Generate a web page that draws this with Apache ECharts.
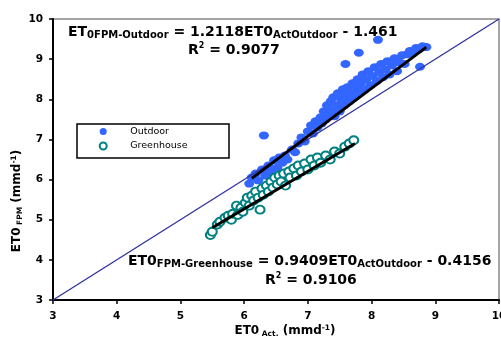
<!DOCTYPE html>
<html><head><meta charset="utf-8">
<script src="https://cdn.jsdelivr.net/npm/echarts@6/dist/echarts.min.js"></script>
<style>html,body{margin:0;padding:0;background:#fff}#c{width:501px;height:338px}</style>
</head><body><div id="c"></div>
<script>
const seriesNames = ['Outdoor', 'Greenhouse'];
const axisTicks = [3, 4, 5, 6, 7, 8, 9, 10];
const oneToOne = [[3, 3], [10, 10]];
const outdoorFit = [[6.12, 6.03], [8.86, 9.30]];
const greenhouseFit = [[5.50, 4.80], [7.74, 6.90]];
const outdoorPoints = [
  [6.08,5.90],[6.12,6.05],[6.18,6.15],[6.22,5.98],[6.28,6.25],[6.33,6.10],[6.38,6.35],[6.42,6.20],
  [6.47,6.48],[6.52,6.30],[6.55,6.55],[6.60,6.42],[6.64,6.60],[6.68,6.50],[6.31,7.10],
  [6.75,6.75],[6.80,6.68],[6.85,6.90],[6.90,7.05],[6.95,6.95],[7.00,7.20],[7.05,7.35],[7.08,7.15],
  [7.12,7.45],[7.15,7.30],[7.20,7.55],[7.22,7.40],[7.25,7.70],[7.28,7.50],[7.30,7.85],[7.33,7.62],
  [7.36,7.95],[7.38,7.72],[7.40,8.05],[7.42,7.58],[7.45,7.85],[7.47,8.15],[7.50,7.70],[7.52,8.00],
  [7.55,8.25],[7.57,7.85],[7.60,8.10],[7.62,8.30],[7.65,7.95],[7.68,8.20],[7.70,8.40],[7.72,8.05],
  [7.75,8.30],[7.78,8.50],[7.80,8.15],[7.83,8.40],[7.86,8.62],[7.88,8.25],[7.92,8.50],[7.95,8.70],
  [7.98,8.35],[8.02,8.58],[8.05,8.80],[8.08,8.45],[8.12,8.68],[8.15,8.88],[8.18,8.55],[8.22,8.75],
  [8.25,8.95],[8.28,8.62],[8.32,8.85],[8.36,9.02],[8.40,8.70],[8.44,8.92],[8.48,9.10],[8.52,8.88],
  [8.56,9.12],[8.60,9.20],[8.65,9.15],[8.70,9.28],[8.75,9.25],[8.80,9.32],[8.86,9.30],
  [7.59,8.88],[7.80,9.16],[8.10,9.48],[8.76,8.81]
];
const greenhousePoints = [
  [5.47,4.62],[5.50,4.70],[5.58,4.88],[5.62,4.95],[5.70,5.05],[5.75,5.10],[5.80,5.00],[5.82,5.15],
  [5.88,5.35],[5.90,5.12],[5.95,5.30],[5.98,5.20],[6.02,5.42],[6.05,5.55],[6.08,5.35],[6.12,5.60],
  [6.15,5.48],[6.18,5.70],[6.22,5.55],[6.25,5.25],[6.28,5.78],[6.30,5.62],[6.35,5.85],[6.38,5.70],
  [6.42,5.95],[6.45,5.80],[6.48,6.05],[6.52,5.88],[6.55,6.10],[6.58,5.95],[6.62,6.15],[6.65,5.85],
  [6.70,6.20],[6.72,6.05],[6.78,6.28],[6.82,6.10],[6.85,6.35],[6.90,6.20],[6.95,6.40],[7.00,6.25],
  [7.05,6.50],[7.10,6.35],[7.15,6.55],[7.20,6.42],[7.28,6.60],[7.35,6.50],[7.42,6.70],[7.50,6.65],
  [7.58,6.82],[7.65,6.90],[7.72,6.98]
];

const FF = 'DejaVu Sans';
const rich = {
  m: {fontFamily: FF, fontWeight: 'bold', fontSize: 14, lineHeight: 16, color: '#000'},
  s: {fontFamily: FF, fontWeight: 'bold', fontSize: 10, lineHeight: 10, verticalAlign: 'bottom', color: '#000'},
  p: {fontFamily: FF, fontWeight: 'bold', fontSize: 8, lineHeight: 8, verticalAlign: 'top', color: '#000'}
};
const richAxis = {
  m: {fontFamily: FF, fontWeight: 'bold', fontSize: 12, lineHeight: 14, color: '#000'},
  s: {fontFamily: FF, fontWeight: 'bold', fontSize: 7.5, lineHeight: 8, verticalAlign: 'bottom', color: '#000'},
  p: {fontFamily: FF, fontWeight: 'bold', fontSize: 7.5, lineHeight: 7, verticalAlign: 'top', color: '#000'}
};

const axisCommon = {
  type: 'value', min: axisTicks[0], max: axisTicks[axisTicks.length - 1], interval: 1,
  splitLine: {show: false},
  axisLine: {show: true, onZero: false, lineStyle: {color: '#000', width: 2}},
  axisTick: {show: true, length: 4, lineStyle: {color: '#000', width: 1.5}},
  axisLabel: {color: '#000', fontFamily: FF, fontWeight: 'bold', fontSize: 10.5}
};

const chart = echarts.init(document.getElementById('c'), null, {renderer: 'canvas'});
chart.setOption({
  animation: false,
  backgroundColor: '#fff',
  grid: {left: 53, right: 2, top: 19, bottom: 38, show: true, borderColor: '#888', borderWidth: 1.5, backgroundColor: 'transparent', outerBoundsMode: 'none'},
  xAxis: Object.assign({}, axisCommon, {axisLabel: Object.assign({}, axisCommon.axisLabel, {margin: 11})}),
  yAxis: Object.assign({}, axisCommon, {axisLabel: Object.assign({}, axisCommon.axisLabel, {margin: 10})}),
  legend: {
    data: seriesNames, orient: 'vertical', left: 98.7, top: 125.5, padding: 0,
    itemWidth: 8, itemHeight: 7, itemGap: 2.5,
    textStyle: {fontFamily: FF, fontSize: 9.5, color: '#000', lineHeight: 12, padding: [0, 0, 0, 18]}
  },
  series: [
    {type: 'line', name: '1:1', data: oneToOne, symbol: 'none', lineStyle: {color: '#3333a0', width: 1.4}, silent: true},
    {type: 'scatter', name: seriesNames[0], data: outdoorPoints, symbol: 'circle', symbolSize: [10, 8],
     itemStyle: {color: '#3366FF', opacity: 1}},
    {type: 'scatter', name: seriesNames[1], data: greenhousePoints, symbol: 'circle', symbolSize: [9, 8],
     itemStyle: {color: '#fff', borderColor: '#008080', borderWidth: 2, opacity: 1}},
    {type: 'line', name: 'fitO', data: outdoorFit, symbol: 'none', lineStyle: {color: '#000', width: 3}, silent: true},
    {type: 'line', name: 'fitG', data: greenhouseFit, symbol: 'none', lineStyle: {color: '#000', width: 3}, silent: true}
  ],
  graphic: [
    {type: 'rect', z: 3, shape: {x: 77, y: 124, width: 152, height: 34}, style: {fill: '#fff', stroke: '#000', lineWidth: 1.5}},
    {type: 'text', z: 10, x: 68, y: 32, style: {text: '{m|ET}{s|0FPM-Outdoor}{m| = 1.2118ET0}{s|ActOutdoor}{m| - 1.461}', rich: rich, align: 'left', verticalAlign: 'middle'}},
    {type: 'text', z: 10, x: 188, y: 50, style: {text: '{m|R}{p|2}{m| = 0.9077}', rich: rich, align: 'left', verticalAlign: 'middle'}},
    {type: 'text', z: 10, x: 128, y: 261, style: {text: '{m|ET0}{s|FPM-Greenhouse}{m| = 0.9409ET0}{s|ActOutdoor}{m| - 0.4156}', rich: rich, align: 'left', verticalAlign: 'middle'}},
    {type: 'text', z: 10, x: 265, y: 280, style: {text: '{m|R}{p|2}{m| = 0.9106}', rich: rich, align: 'left', verticalAlign: 'middle'}},
    {type: 'text', z: 10, x: 285, y: 331, style: {text: '{m|ET0}{s| Act.}{m| (mmd}{p|-1}{m|)}', rich: richAxis, align: 'center', verticalAlign: 'middle'}},
    {type: 'text', z: 10, x: 17, y: 201, rotation: Math.PI / 2, style: {text: '{m|ET0}{s| FPM}{m| (mmd}{p|-1}{m|)}', rich: richAxis, align: 'center', verticalAlign: 'middle'}}
  ]
});
</script></body></html>
